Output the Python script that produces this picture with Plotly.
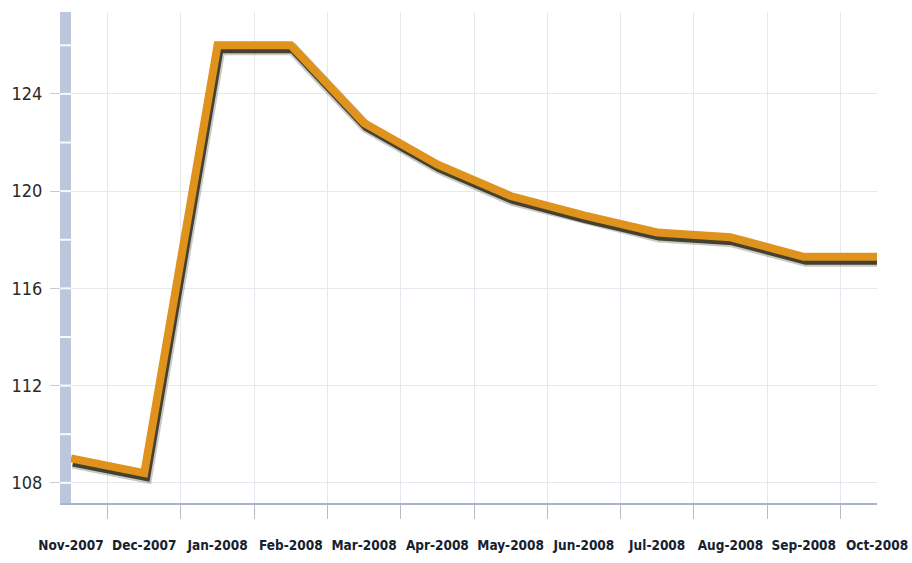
import plotly.graph_objects as go

# Monthly index values
months = ["Nov-2007", "Dec-2007", "Jan-2008", "Feb-2008", "Mar-2008", "Apr-2008",
          "May-2008", "Jun-2008", "Jul-2008", "Aug-2008", "Sep-2008", "Oct-2008"]
index_values = [109.0, 108.4, 126.0, 126.0, 122.8, 121.1, 119.8, 119.0, 118.3, 118.1, 117.3, 117.3]
y_ticks = [108, 112, 116, 120, 124]

W, H = 912, 563
L, R, T, B = 71, 35, 12, 60
plot_w = W - L - R
plot_h = H - T - B

n = len(months)
x_pos = list(range(n))
x_range = [0, n - 1]
y_range = [107.17, 127.37]

px_per_x = plot_w / (x_range[1] - x_range[0])
px_per_y = plot_h / (y_range[1] - y_range[0])

# drop shadow: same series on an overlaid pair of axes shifted a few pixels
sdx, sdy = 2, 4
x2_range = [x_range[0] - sdx / px_per_x, x_range[1] - sdx / px_per_x]
y2_range = [y_range[0] + sdy / px_per_y, y_range[1] + sdy / px_per_y]

fig = go.Figure()
# invisible anchor trace so the labelled axes are drawn
fig.add_trace(go.Scatter(x=x_pos, y=index_values, mode="lines",
                         line=dict(color="rgba(0,0,0,0)", width=0),
                         hoverinfo="skip", showlegend=False))
fig.add_trace(go.Scatter(
    x=x_pos, y=index_values, xaxis="x2", yaxis="y2", mode="lines",
    line=dict(color="rgba(40,40,30,0.25)", width=12), hoverinfo="skip", showlegend=False))
fig.add_trace(go.Scatter(
    x=x_pos, y=index_values, xaxis="x2", yaxis="y2", mode="lines",
    line=dict(color="rgba(55,50,30,0.9)", width=8), hoverinfo="skip", showlegend=False))
fig.add_trace(go.Scatter(
    x=x_pos, y=index_values, xaxis="x3", yaxis="y3", mode="lines",
    line=dict(color="#DF921C", width=8), showlegend=False))

label_font = "DejaVu Sans Condensed, DejaVu Sans, sans-serif"

fig.update_layout(
    width=W, height=H,
    margin=dict(l=L, r=R, t=T, b=B, pad=0),
    paper_bgcolor="white", plot_bgcolor="white",
    xaxis=dict(
        range=x_range, tickmode="array", tickvals=x_pos, ticktext=months,
        showgrid=False, zeroline=False, ticks="", tickangle=0, automargin=False,
        showline=True, linecolor="#A9B3C9", linewidth=2,
        tickfont=dict(family=label_font, size=13.5, color="#16222F", weight="bold"),
        ticklabelstandoff=29,
        minor=dict(tickvals=[i + 0.5 for i in range(n - 1)], showgrid=True,
                   gridcolor="#E6E8EF", gridwidth=1, ticks="outside", ticklen=14,
                   tickcolor="#B5BCCB", tickwidth=1),
    ),
    yaxis=dict(
        range=y_range, tickmode="array", tickvals=y_ticks, automargin=False,
        showgrid=True, gridcolor="#E8E9EE", gridwidth=1, zeroline=False,
        showline=True, linecolor="#BCC6DD", linewidth=11,
        ticks="outside", ticklen=10, tickcolor="#C8CCD4", tickwidth=1,
        ticklabelstandoff=4,
        tickfont=dict(family=label_font, size=18, color="#2A2A2A"),
    ),
    xaxis2=dict(range=x2_range, overlaying="x", visible=False),
    yaxis2=dict(range=y2_range, overlaying="y", visible=False),
    xaxis3=dict(range=x_range, overlaying="x", visible=False),
    yaxis3=dict(range=y_range, overlaying="y", visible=False),
)

# white notches across the axis bar every 2 units
bar_x0 = -11 / plot_w
for v in range(108, 128, 2):
    fig.add_shape(type="line", xref="paper", yref="y", x0=bar_x0, x1=0, y0=v, y1=v,
                  line=dict(color="rgba(255,255,255,0.9)", width=2), layer="above")

fig.write_html("out.html")
